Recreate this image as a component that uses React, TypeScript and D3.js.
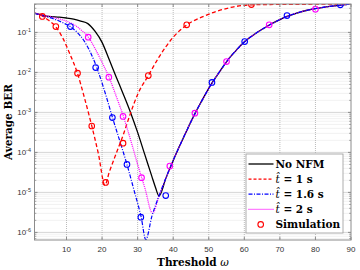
import React from 'react'
import * as d3 from 'd3'

// curves: x positions (threshold) and average BER
const noNfmX = [1, 3, 5, 8, 10, 12, 14, 16, 18, 20, 22, 24, 26, 28, 30, 32, 34, 35, 36,
  38, 40, 42, 44, 46, 48, 50, 52, 54, 56, 58, 60, 62, 64, 66, 68, 70, 72, 75, 78, 81, 84, 87, 90]
const noNfmY = [0.302, 0.275, 0.251, 0.24, 0.229, 0.214, 0.191, 0.166, 0.107, 0.0562, 0.0209,
  7.59e-3, 2.82e-3, 1.0e-3, 3.16e-4, 8.91e-5, 2.51e-5, 1.35e-5, 8.13e-6,
  2.34e-5, 6.31e-5, 1.58e-4, 3.8e-4, 8.91e-4, 1.91e-3, 3.98e-3, 7.59e-3, 0.0138, 0.024, 0.038,
  0.0575, 0.0794, 0.105, 0.135, 0.17, 0.209, 0.251, 0.309, 0.363, 0.407, 0.447, 0.479, 0.513]

const t1X = [1, 3, 5, 7, 9, 11, 13, 15, 17, 19, 20.8, 22, 24, 26, 28, 30, 33, 36, 40, 44, 48, 52, 56, 62, 70, 80, 90]
const t1Y = [0.302, 0.263, 0.2, 0.138, 0.0708, 0.0282, 0.01, 2.4e-3, 5.01e-4, 8.91e-5, 1.51e-5,
  3.16e-5, 9.55e-5, 2.82e-4, 9.55e-4, 2.82e-3, 8.32e-3, 0.024, 0.0759, 0.158, 0.24, 0.331, 0.417,
  0.49, 0.501, 0.507, 0.513]

const commonX = [36, 38, 40, 42, 44, 46, 48, 50, 52, 54, 56, 58, 60, 62, 64, 66, 68, 70, 72, 75, 78, 81, 84, 87, 90]
const commonY = [8.13e-6, 2.34e-5, 6.31e-5, 1.58e-4, 3.8e-4, 8.91e-4, 1.91e-3, 3.98e-3, 7.59e-3,
  0.0138, 0.024, 0.038, 0.0575, 0.0794, 0.105, 0.135, 0.17, 0.209, 0.251, 0.309, 0.363, 0.407,
  0.447, 0.479, 0.513]

const t16X = [1, 4, 7, 9, 11, 13, 15, 17, 19, 21, 23, 25, 27, 29, 31, 32.3, 34, ...commonX]
const t16Y = [0.302, 0.251, 0.209, 0.174, 0.141, 0.1, 0.0603, 0.0282, 0.01, 2.82e-3, 7.08e-4,
  1.91e-4, 5.01e-5, 1.12e-5, 2.4e-6, 6.6e-7, 2.51e-6, ...commonY]

const t2X = [1, 4, 7, 10, 12, 14, 16, 18, 20, 22, 24, 26, 28, 30, 32, 34.2, ...commonX]
const t2Y = [0.302, 0.263, 0.229, 0.191, 0.158, 0.117, 0.0794, 0.0398, 0.0178, 7.41e-3, 2.51e-3,
  7.94e-4, 2.09e-4, 5.01e-5, 1.32e-5, 3.02e-6, ...commonY]

// simulation markers
const simT1X = [3.2, 7, 13.1, 17.1, 21, 25.9, 33, 43.8, 62]
const simT1Y = [0.251, 0.14, 9.55e-3, 4.57e-4, 1.78e-5, 1.7e-4, 8.32e-3, 0.155, 0.495]
const simT16X = [11.1, 18.2, 22.9, 27, 30.9, 37.9, 50.9, 60.1, 72, 87]
const simT16Y = [0.14, 0.0132, 7.41e-4, 5.01e-5, 2.4e-6, 8.32e-6, 5.62e-3, 0.0589, 0.263, 0.49]
const simT2X = [16.1, 21.9, 25.9, 31.1, 39.05, 46.1, 55, 67, 80]
const simT2Y = [0.0759, 7.59e-3, 7.94e-4, 2.34e-5, 4.57e-5, 9.55e-4, 0.0186, 0.155, 0.38]

const xTicks = [10, 20, 30, 40, 50, 60, 70, 80, 90]
const yDecades = [-6, -5, -4, -3, -2, -1]

const W = 360
const H = 270
const L = 34.5, R = 351, T = 4, B = 240

const x = d3.scaleLinear().domain([1, 90]).range([L, R])
const y = d3.scaleLog().domain([Math.pow(10, -6.19), Math.pow(10, -0.29)]).range([B, T])

const line = d3.line<[number, number]>()
  .x(d => x(d[0]))
  .y(d => y(d[1]))
  .curve(d3.curveMonotoneX)

const zip = (xs: number[], ys: number[]) => xs.map((v, i) => [v, ys[i]] as [number, number])

const series = [
  { xs: noNfmX, ys: noNfmY, color: '#000000', dash: undefined as string | undefined, w: 1.3 },
  { xs: t1X, ys: t1Y, color: '#ff0000', dash: '4,2.5', w: 1.3 },
  { xs: t2X, ys: t2Y, color: '#ff00ff', dash: '1,1', w: 1.3 },
  { xs: t16X, ys: t16Y, color: '#0000ff', dash: '4,1.5,1,1.5', w: 1.2 },
]

const sims = [
  { xs: simT1X, ys: simT1Y, color: '#ff0000' },
  { xs: simT16X, ys: simT16Y, color: '#0000ff' },
  { xs: simT2X, ys: simT2Y, color: '#ff00ff' },
]

const legendItems = [
  { label: 'No NFM', color: '#000000', dash: undefined as string | undefined, hat: false },
  { label: ' = 1 s', color: '#ff0000', dash: '3,2', hat: true },
  { label: ' = 1.6 s', color: '#0000ff', dash: '4,1.5,1,1.5', hat: true },
  { label: ' = 2 s', color: '#ff00ff', dash: '1,1', hat: true },
]

const sans = 'Liberation Sans, Arial, sans-serif'
const serif = 'DejaVu Serif, serif'

export default function App() {
  const minor: number[] = []
  for (let d = -7; d <= 0; d++) {
    for (let k = 2; k <= 9; k++) {
      const v = k * Math.pow(10, d)
      if (v > y.domain()[0] && v < y.domain()[1]) minor.push(v)
    }
  }
  const majors = yDecades.map(d => Math.pow(10, d))

  return (
    <svg width={W} height={H} style={{ position: 'absolute', left: 0, top: 0, background: '#fff' }}>
      <rect x={0} y={0} width={W} height={H} fill="#fff" />
      {/* grid */}
      <g>
        {minor.map((v, i) => (
          <line key={'mn' + i} x1={L} x2={R} y1={y(v)} y2={y(v)} stroke="#d8d8d8" strokeWidth={0.7} strokeDasharray="1,1" />
        ))}
        {majors.map((v, i) => (
          <line key={'mj' + i} x1={L} x2={R} y1={y(v)} y2={y(v)} stroke="#999" strokeWidth={0.8} strokeDasharray="1,1" />
        ))}
        {xTicks.slice(0, -1).map(t => (
          <line key={'vx' + t} x1={x(t)} x2={x(t)} y1={T} y2={B} stroke="#aaa" strokeWidth={0.8} strokeDasharray="1,1" />
        ))}
      </g>

      {/* curves */}
      <defs>
        <clipPath id="plot"><rect x={L} y={T} width={R - L} height={B - T} /></clipPath>
      </defs>
      <g clipPath="url(#plot)">
        {series.map((s, i) => (
          <path key={i} d={line(zip(s.xs, s.ys)) || ''} fill="none" stroke={s.color}
            strokeWidth={s.w} strokeDasharray={s.dash} />
        ))}
        {sims.map((s, i) => s.xs.map((xv, j) => (
          <circle key={i + '-' + j} cx={x(xv)} cy={y(s.ys[j])} r={2.8} fill="none" stroke={s.color} strokeWidth={1.1} />
        )))}
      </g>

      {/* axes box and ticks */}
      <rect x={L} y={T} width={R - L} height={B - T} fill="none" stroke="#8c8c8c" strokeWidth={1} />
      {xTicks.map(t => (
        <g key={'xt' + t}>
          <line x1={x(t)} x2={x(t)} y1={B} y2={B - 3} stroke="#8c8c8c" />
          <line x1={x(t)} x2={x(t)} y1={T} y2={T + 3} stroke="#8c8c8c" />
          <text x={x(t)} y={252} textAnchor="middle" fontFamily={sans} fontSize={8} fill="#333">{t}</text>
        </g>
      ))}
      {minor.map((v, i) => (
        <g key={'ymt' + i}>
          <line x1={L} x2={L + 1.8} y1={y(v)} y2={y(v)} stroke="#8c8c8c" strokeWidth={0.8} />
          <line x1={R} x2={R - 1.8} y1={y(v)} y2={y(v)} stroke="#8c8c8c" strokeWidth={0.8} />
        </g>
      ))}
      {yDecades.map(d => (
        <g key={'yt' + d}>
          <line x1={L} x2={L + 3} y1={y(Math.pow(10, d))} y2={y(Math.pow(10, d))} stroke="#8c8c8c" />
          <line x1={R} x2={R - 3} y1={y(Math.pow(10, d))} y2={y(Math.pow(10, d))} stroke="#8c8c8c" />
          <text x={31} y={y(Math.pow(10, d)) + 3} textAnchor="end" fontFamily={sans} fontSize={8} fill="#333">
            10<tspan dy={-3.5} fontSize={5.5}>{d}</tspan>
          </text>
        </g>
      ))}

      {/* axis labels */}
      <text transform={`translate(12,${(T + B) / 2}) rotate(-90)`} textAnchor="middle"
        fontFamily={serif} fontWeight="bold" fontSize={10.5} fill="#000">Average BER</text>
      <text x={193} y={266} textAnchor="middle" fontFamily={serif} fontWeight="bold" fontSize={10.5} fill="#000">
        Threshold <tspan fontStyle="italic" fontWeight="normal">ω</tspan>
      </text>

      {/* legend */}
      <g>
        <rect x={246} y={154} width={97} height={79} fill="#fff" stroke="#999" strokeWidth={0.8} />
        {legendItems.map((it, i) => {
          const ly = 164 + i * 15.1
          return (
            <g key={'lg' + i}>
              <line x1={248.5} x2={273.5} y1={ly} y2={ly} stroke={it.color} strokeWidth={1.3} strokeDasharray={it.dash} />
              <text x={275.5} y={ly + 3.8} fontFamily={serif} fontWeight="bold" fontSize={10.5} fill="#000">
                {it.hat ? <tspan fontStyle="italic" fontWeight="normal">{'t\u0302'}</tspan> : null}
                {it.label}
              </text>
            </g>
          )
        })}
        <circle cx={260.7} cy={224.4} r={2.8} fill="none" stroke="#ff0000" strokeWidth={1.1} />
        <text x={275.5} y={228.2} fontFamily={serif} fontWeight="bold" fontSize={10.5} fill="#000">Simulation</text>
      </g>
    </svg>
  )
}
